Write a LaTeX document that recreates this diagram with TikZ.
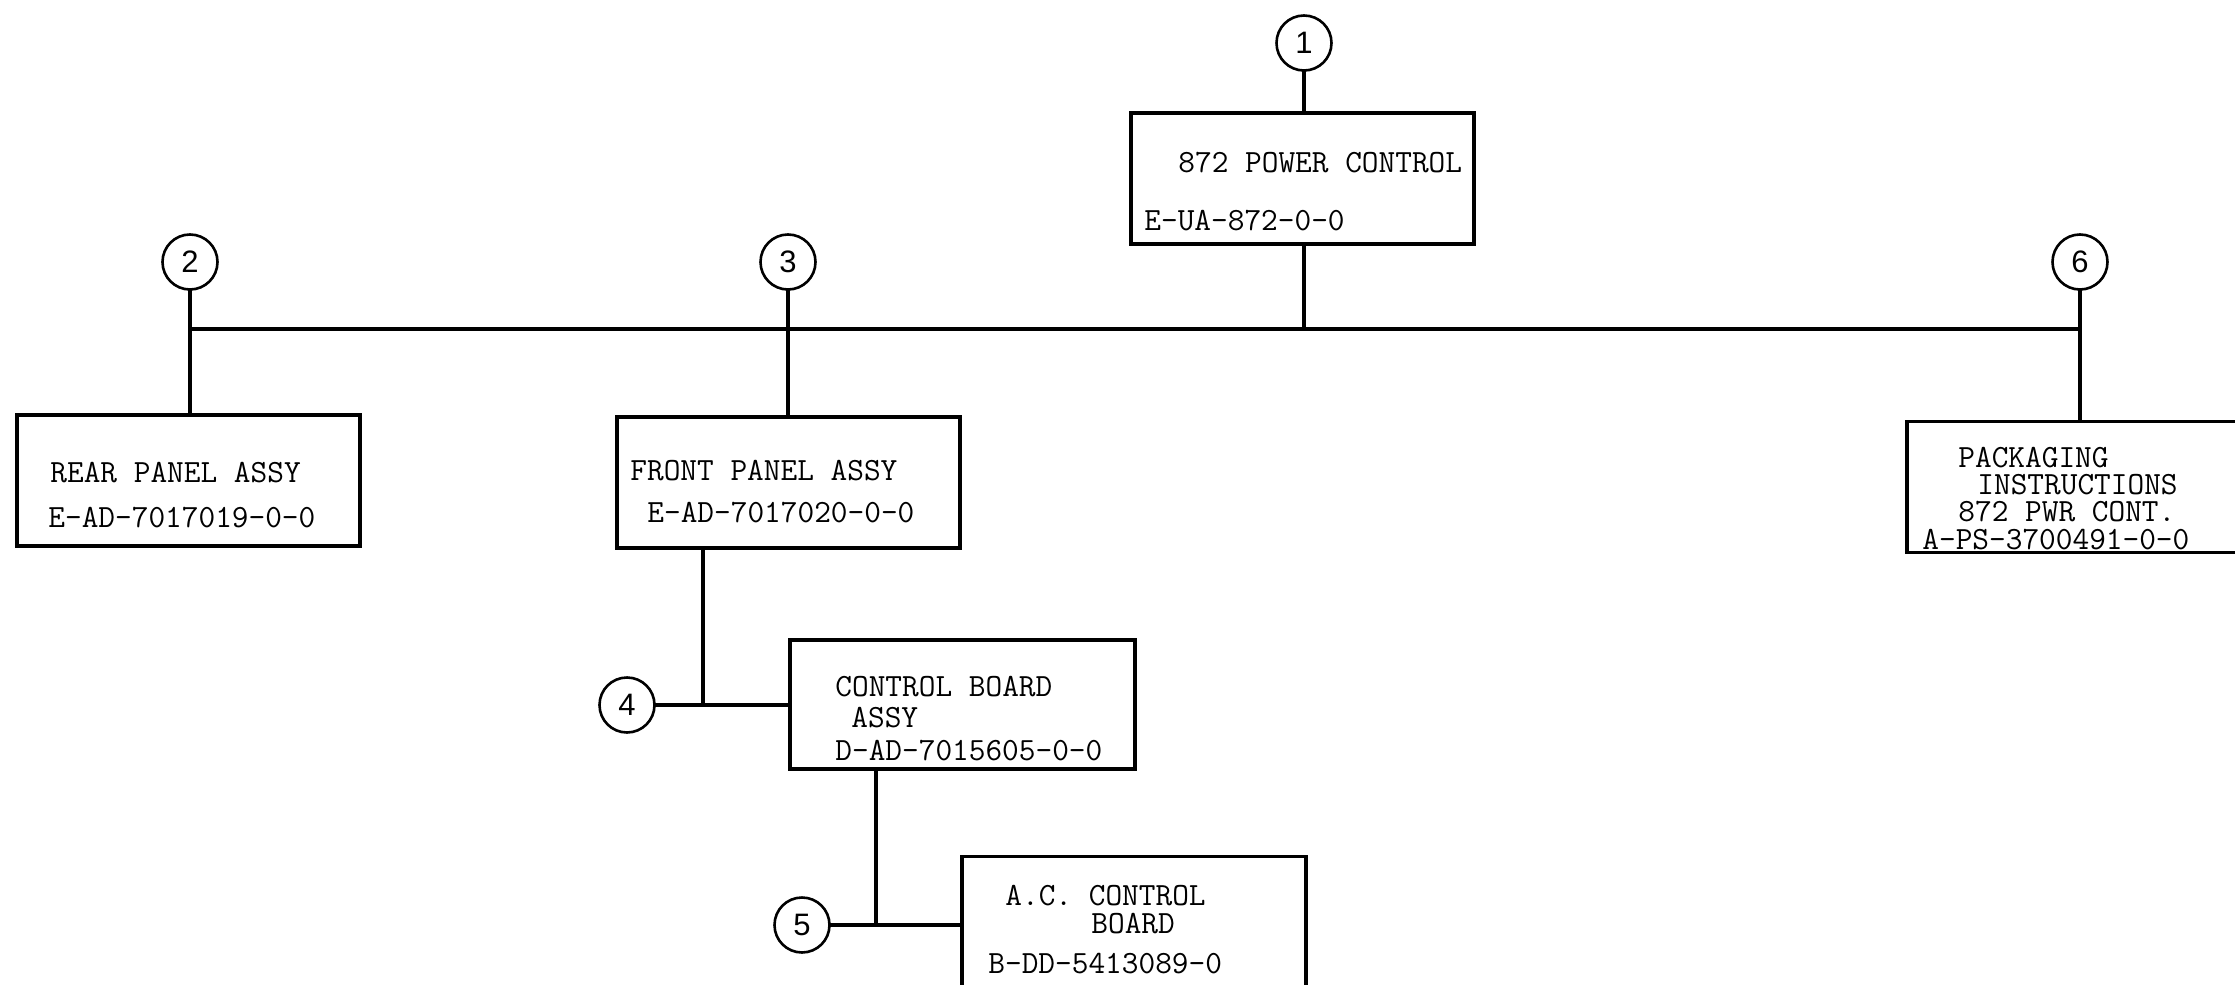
\documentclass[tikz,border=0pt]{standalone}
\usepackage{fontspec}
\newfontfamily\dg{Liberation Sans}
\newcommand\twfont{\ttfamily\addfontfeatures{FakeBold=1.2}\fontsize{16.2}{18}\selectfont}
\begin{document}
\begin{tikzpicture}[x=0.5pt,y=-0.5pt,
  box/.style={draw, line width=1.6pt, minimum width=171.5pt, minimum height=65.5pt, inner sep=0pt, outer sep=0pt},
  num/.style={circle, draw, line width=1.3pt, minimum size=27.5pt, inner sep=0pt, outer sep=0pt, font=\dg\fontsize{15.5}{18}\selectfont},
  lbl/.style={anchor=base west, inner sep=0pt, font=\twfont},
  link/.style={line width=1.6pt}]
\useasboundingbox (0,0) rectangle (2235,985);
\fill[white] (0,0) rectangle (2235,985);
\clip (0,0) rectangle (2235,985);
% boxes
\node[box] (top) at (1302.5,178.5) {};
\node[box] (rear) at (188.5,480.5) {};
\node[box] (front) at (788.5,482.5) {};
\node[box] (pack) at (2078.5,487) {};
\node[box, minimum width=172.5pt, minimum height=64.5pt] (ctrl) at (962.5,704.5) {};
\node[box, minimum width=172pt] (ac) at (1134,922) {};
% circles
\node[num] (c1) at (1304,43) {1};
\node[num] (c2) at (190,262) {2};
\node[num] (c3) at (788,262) {3};
\node[num] (c6) at (2080,262) {6};
\node[num] (c4) at (627,705) {4};
\node[num] (c5) at (802,925) {5};
% junctions
\coordinate (busL) at (190,329);
\coordinate (busR) at (2080,329);
\coordinate (j4) at (703,705);
\coordinate (j5) at (876,925);
% connectors
\draw[link] (busL) -- (busR);
\draw[link] (c1.south) -- (c1.south |- top.north);
\draw[link] (top.south -| c1) -- (c1 |- busL);
\draw[link] (c2.south) -- (c2.south |- rear.north);
\draw[link] (c3.south) -- (c3.south |- front.north);
\draw[link] (c6.south) -- (c6.south |- pack.north);
\draw[link] (j4 |- front.south) -- (j4);
\draw[link] (c4.east) -- (c4.east -| ctrl.west);
\draw[link] (j5 |- ctrl.south) -- (j5);
\draw[link] (c5.east) -- (c5.east -| ac.west);
% texts
\node[lbl] (t1a) at (1178,172) {872 POWER CONTROL};
\node[lbl] (t1b) at (1144,230) {E-UA-872-0-0};
\node[lbl] (t2a) at (50,482) {REAR PANEL ASSY};
\node[lbl] (t2b) at (48,527) {E-AD-7017019-0-0};
\node[lbl] (t3a) at (630,480) {FRONT PANEL ASSY};
\node[lbl] (t3b) at (647,522) {E-AD-7017020-0-0};
\node[lbl] (t4a) at (835,696) {CONTROL BOARD};
\node[lbl] (t4b) at (851,727) {ASSY};
\node[lbl] (t4c) at (835,760) {D-AD-7015605-0-0};
\node[lbl] (t5a) at (1005,905) {A.C. CONTROL};
\node[lbl] (t5b) at (1091,933) {BOARD};
\node[lbl] (t5c) at (988,973) {B-DD-5413089-0};
\node[lbl] (t6a) at (1958,467) {PACKAGING};
\node[lbl] (t6b) at (1977,494) {INSTRUCTIONS};
\node[lbl] (t6c) at (1958,521) {872 PWR CONT.};
\node[lbl] (t6d) at (1922,549) {A-PS-3700491-0-0};
\end{tikzpicture}
\end{document}
